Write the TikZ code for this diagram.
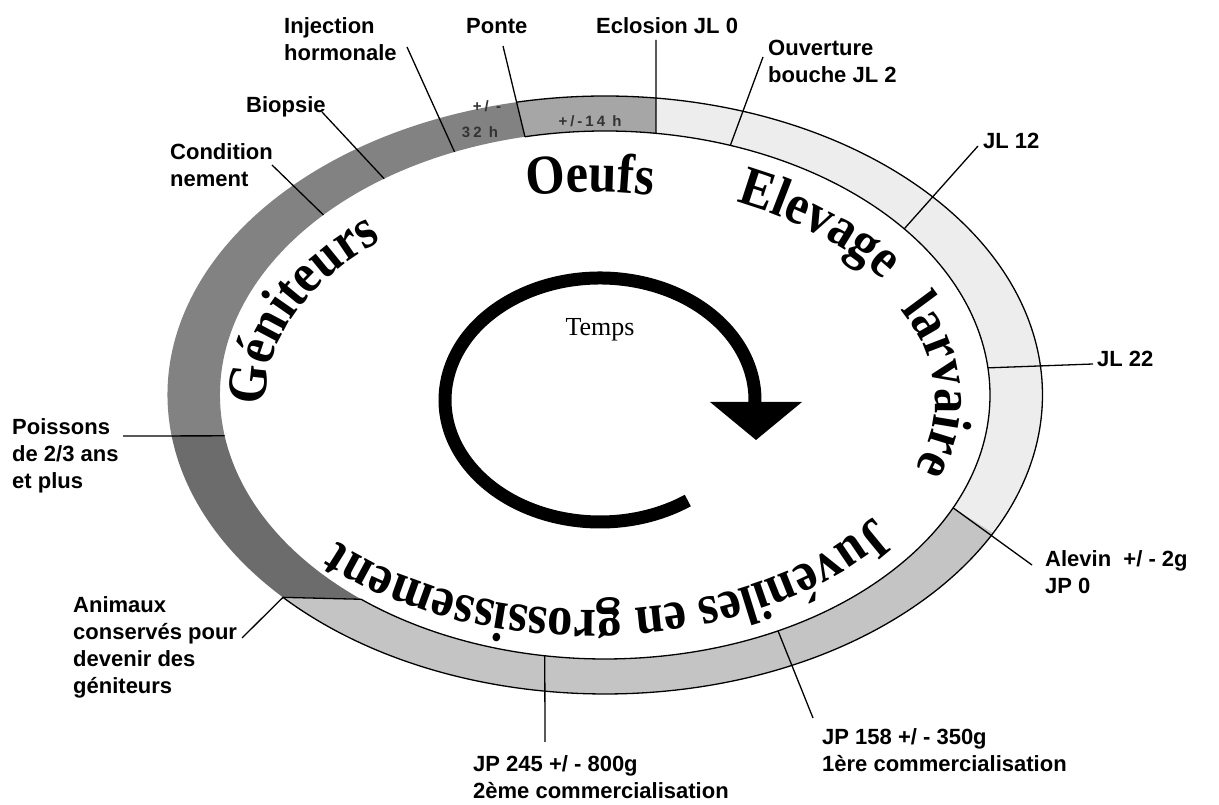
\documentclass[tikz,border=0pt]{standalone}
\usepackage{fontspec}
\setmainfont{Liberation Serif}
\setsansfont{Liberation Sans}
\newfontfamily\wafont[FakeStretch=0.9]{Liberation Serif}
\newfontfamily\lblfont{Liberation Sans}
\newfontfamily\ringtxtfont[LetterSpace=20]{Liberation Sans}
\usetikzlibrary{decorations.text}
\newcommand\wastyle{\wafont\bfseries\fontsize{56}{56}\selectfont}
\definecolor{elev}{HTML}{EDEDED}
\definecolor{oeuf}{HTML}{A6A6A6}
\definecolor{genA}{HTML}{828282}
\definecolor{genB}{HTML}{6C6C6C}
\definecolor{juv}{HTML}{C4C4C4}
\definecolor{ringtxt}{HTML}{333333}
% outer angle a, inner angle a, outer angle b, inner angle b, colour
\newcommand\ringpart[5]{%
  \fill[#5] (#1:437.5pt and 299pt) arc[start angle=#1,end angle=#3,x radius=437.5pt,y radius=299pt]
    -- (#4:385pt and 264pt) arc[start angle=#4,end angle=#2,x radius=385pt,y radius=264pt] -- cycle;}
\begin{document}
\begin{tikzpicture}[x=1pt,y=1pt,
  lbl/.style={font=\lblfont\bfseries\fontsize{22}{27}\selectfont, align=left, anchor=base west, inner sep=0pt},
  ticks/.style={line width=1.3pt, black},
  rim/.style={line width=1.3pt, black},
  ringlbl/.style={font=\ringtxtfont\bfseries\fontsize{15}{15}\selectfont, text=ringtxt, inner sep=0pt},
  watext/.style={decorate, decoration={text along path, text align=center, text={|\wastyle|#1}}}]
\useasboundingbox (0,0) rectangle (1219,805);
\fill[white] (0,0) rectangle (1219,805);

% ---------------- ring ----------------
\begin{scope}[shift={(605,410)}]
  \ringpart{-27.5}{-25.3}{83.3}{82.4}{elev}
  \ringpart{83.3}{82.4}{101.7}{102}{oeuf}
  \ringpart{101.7}{102}{187.9}{188.9}{genA}
  \ringpart{187.9}{188.9}{222.6}{230.7}{genB}
  \ringpart{222.6}{230.7}{332.5}{334.7}{juv}
  \draw[rim] (-137.4:437.5pt and 299pt) arc[start angle=-137.4,end angle=101.7,x radius=437.5pt,y radius=299pt];
  \draw[rim] (-129.3:385pt and 264pt) arc[start angle=-129.3,end angle=102,x radius=385pt,y radius=264pt];
  % inner ends of the ticks
  \coordinate (iCond) at (137:385pt and 264pt);
  \coordinate (iBiop) at (125:385pt and 264pt);
  \coordinate (iInj) at (113:385pt and 264pt);
  \coordinate (iPonte) at (102:385pt and 264pt);
  \coordinate (iEclo) at (82.4:385pt and 264pt);
  \coordinate (iOuv) at (71:385pt and 264pt);
  \coordinate (iJL12) at (39:385pt and 264pt);
  \coordinate (iJL22) at (5.9:385pt and 264pt);
  \coordinate (iAlev) at (-25.3:385pt and 264pt);
  \coordinate (iJP158) at (-63.3:385pt and 264pt);
  \coordinate (iJP245) at (-99:385pt and 264pt);
  \coordinate (iAnim) at (-129.3:385pt and 264pt);
  \coordinate (oAnim) at (-137.4:437.5pt and 299pt);
  \coordinate (iPois) at (188.9:385pt and 264pt);
\end{scope}

% texts on the ring
\node[ringlbl] (r1) at (487,699) {+/ -};
\node[ringlbl] (r2) at (480,673) {32 h};
\node[ringlbl] (r3) at (590,684) {+/-14 h};

% ---------------- labels (anchor = baseline of the last line) ----------------
\node[lbl] (lInj) at (284,744) {Injection\\hormonale};
\node[lbl] (lPonte) at (466,771) {Ponte};
\node[lbl] (lEclo) at (596,771) {Eclosion JL 0};
\node[lbl] (lOuv) at (768,722) {Ouverture\\bouche JL 2};
\node[lbl] (lJL12) at (983,656) {JL 12};
\node[lbl] (lBiop) at (246,692) {Biopsie};
\node[lbl] (lCond) at (170,618) {Condition\\nement};
\node[lbl] (lPois) at (12,316) {Poissons\\de 2/3 ans\\et plus};
\node[lbl] (lAnim) at (73,111) {Animaux\\conservés pour\\devenir des\\géniteurs};
\node[lbl] (lJL22) at (1097,438) {JL 22};
\node[lbl] (lAlev) at (1045,211) {Alevin\ \ +/ - 2g\\JP 0};
\node[lbl] (lJP245) at (473,6) {JP 245 +/ - 800g\\2ème commercialisation};
\node[lbl] (lJP158) at (822,33) {JP 158 +/ - 350g\\1ère commercialisation};

% free ends of the ticks next to the labels
\coordinate (tCond) at (272,640);
\coordinate (tBiop) at (322,693);
\coordinate (tInj) at (407,758);
\coordinate (tPonte) at (503,759);
\coordinate (tEclo) at (656,765);
\coordinate (tOuv) at (763,748);
\coordinate (tJL12) at (978,659);
\coordinate (tJL22) at (1093,441);
\coordinate (tAlev) at (1032,240);
\coordinate (tJP158) at (813,87);
\coordinate (tJP245) at (545,63);
\coordinate (tAnim) at (242,167);
\coordinate (tPois) at (123,369);

\draw[ticks] (tCond) -- (iCond);
\draw[ticks] (tBiop) -- (iBiop);
\draw[ticks] (tInj) -- (iInj);
\draw[ticks] (tPonte) -- (iPonte);
\draw[ticks] (tEclo) -- (iEclo);
\draw[ticks] (tOuv) -- (iOuv);
\draw[ticks] (tJL12) -- (iJL12);
\draw[ticks] (tJL22) -- (iJL22);
\draw[ticks] (tAlev) -- (iAlev);
\draw[ticks] (tJP158) -- (iJP158);
\draw[ticks] (tJP245) -- (iJP245);
\draw[ticks] (tAnim) -- (oAnim) -- (iAnim);
\draw[ticks] (tPois) -- (iPois);

% ---------------- curved titles ----------------
\begin{scope}[shift={(590,405)}]
  \path[watext=Oeufs] (115:324pt and 208pt) arc[start angle=115,end angle=65,x radius=324pt,y radius=208pt];
  \path[watext=Elevage] (73:350pt and 218pt) arc[start angle=73,end angle=23,x radius=350pt,y radius=218pt];
  \path[watext=larvaire] (33:345pt and 208pt) arc[start angle=33,end angle=-27,x radius=345pt,y radius=208pt];
  \path[watext=Géniteurs] (198:324pt and 208pt) arc[start angle=198,end angle=118,x radius=324pt,y radius=208pt];
\end{scope}
\begin{scope}[shift={(590,410)}]
  \path[watext=Juvéniles en grossissement] (-15:345pt and 215pt) arc[start angle=-15,end angle=-155,x radius=345pt,y radius=215pt];
\end{scope}

% ---------------- Temps arrow ----------------
\begin{scope}[shift={(600,405)}]
  \coordinate (aS) at (-55.5:155pt and 122pt);
  \draw[line width=13pt] (aS) arc[start angle=-55.5,end angle=-361,x radius=155pt,y radius=122pt];
  \fill (110,-2) -- (202,-2) -- (156,-40) -- cycle;
\end{scope}
\node[font=\fontsize{26}{26}\selectfont] (temps) at (600,475) {Temps};
\end{tikzpicture}
\end{document}
